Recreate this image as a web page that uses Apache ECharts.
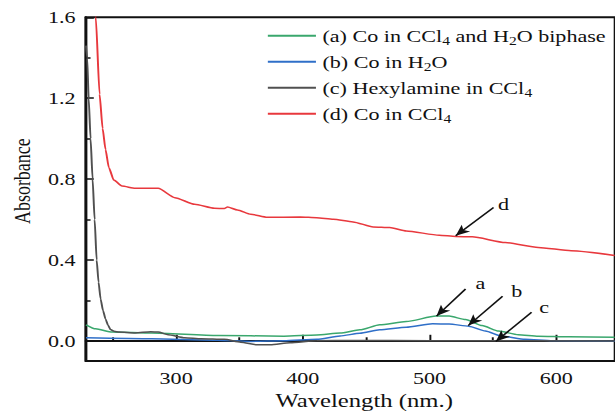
<!DOCTYPE html>
<html>
<head>
<meta charset="utf-8">
<script src="https://cdn.jsdelivr.net/npm/echarts@6/dist/echarts.min.js"></script>
<style>
  html, body { margin: 0; padding: 0; background: #fff; overflow: hidden; }
  /* the source figure is stretched horizontally, so the chart is drawn narrow and scaled */
  #chart { width: 473px; height: 415px; transform: scaleX(1.3002); transform-origin: 0 0; }
</style>
</head>
<body>
<div id="chart"></div>
<script>
// (a) Co in CCl4 and H2O biphase
const wlA = [228.9, 236.5, 249.5, 280.8, 332.8, 385, 411, 429.4, 445, 460.7, 481.6, 505, 515.4, 528.4, 541.4, 554.4, 570, 585.7, 610, 646];
const absA = [0.079, 0.059, 0.043, 0.038, 0.026, 0.023, 0.029, 0.038, 0.054, 0.079, 0.095, 0.122, 0.122, 0.105, 0.075, 0.048, 0.030, 0.023, 0.020, 0.018];

// (b) Co in H2O
const wlB = [228.9, 280.8, 332.8, 359, 385, 411, 429.4, 445, 460.7, 481.6, 502.3, 515.4, 531, 544, 557, 575.3, 597, 646];
const absB = [0.015, 0.010, 0.003, -0.003, 0.0, 0.007, 0.024, 0.037, 0.054, 0.067, 0.084, 0.083, 0.072, 0.048, 0.023, 0.007, 0.0, -0.002];

// (c) Hexylamine in CCl4
const wlC = [228.9, 229.8, 231, 232.5, 234.1, 235.7, 237.3, 238.8, 240.4, 242.3, 244.3, 246.2, 248.2, 251, 255, 267.7, 280, 285.9, 293.7, 306.8, 319.8, 338, 351, 364, 374.4, 390, 411, 440, 500, 646];
const absC = [1.46, 1.40, 1.2, 1.0, 0.8, 0.6, 0.4, 0.29, 0.207, 0.15, 0.108, 0.078, 0.056, 0.047, 0.043, 0.039, 0.045, 0.043, 0.030, 0.015, 0.010, 0.007, -0.007, -0.020, -0.020, -0.010, 0.0, 0.002, 0.0, -0.001];

// (d) Co in CCl4
const wlD = [230, 233, 236.6, 239.6, 242, 244.3, 246.9, 250.8, 257.3, 267.7, 285.9, 299, 314.6, 330.2, 338, 340.6, 348.4, 358.9, 371.9, 398, 410.9, 424, 439.6, 455.5, 468.5, 481.6, 507.6, 520.6, 533.6, 559.7, 585.7, 611.7, 646];
const absD = [2.3, 1.95, 1.6, 1.22, 1.05, 0.946, 0.857, 0.795, 0.765, 0.754, 0.754, 0.708, 0.675, 0.655, 0.654, 0.662, 0.647, 0.626, 0.611, 0.612, 0.609, 0.601, 0.588, 0.563, 0.560, 0.543, 0.522, 0.516, 0.514, 0.486, 0.462, 0.445, 0.422];

const seriesNames = ['(a) Co in CCl4 and H2O biphase', '(b) Co in H2O', '(c) Hexylamine in CCl4', '(d) Co in CCl4'];
const seriesColors = ['#3aa76d', '#2f6fc8', '#505050', '#e8383d'];

const xTicks = [300, 400, 500, 600];
const xMinorTicks = [250, 350, 450, 550];
const yTicks = [0, 0.4, 0.8, 1.2, 1.6];
const yMinorTicks = [0.2, 0.6, 1.0, 1.4];

// arrow annotations: [label, startX, startY, tipX, tipY, labelX, labelY]
const arrows = [
  ['a', 528.4, 0.256, 505.5, 0.122, 540.1, 0.286],
  ['b', 557.6, 0.220, 530.5, 0.075, 568.7, 0.248],
  ['c', 580.5, 0.141, 552.3, -0.003, 590.4, 0.169],
  ['d', 550.5, 0.659, 520.6, 0.519, 558.4, 0.679]
];

const font = 'Liberation Serif';
const ink = '#111';
const xs = [wlA, wlB, wlC, wlD];
const ys = [absA, absB, absC, absD];

const chart = echarts.init(document.getElementById('chart'), null, { renderer: 'svg' });

const series = seriesNames.map((name, i) => ({
  name: name,
  type: 'line',
  data: xs[i].map((x, j) => [x, ys[i][j]]),
  symbol: 'none',
  smooth: 0.2,
  smoothMonotone: 'x',
  lineStyle: { color: seriesColors[i], width: 1.5 },
  itemStyle: { color: seriesColors[i] },
  z: i === 3 ? 4 : 3,
  markLine: {
    silent: true,
    animation: false,
    symbol: ['none', 'arrow'],
    symbolSize: [7, 11],
    label: { show: false },
    lineStyle: { color: ink, width: 1.4, type: 'solid' },
    data: [[{ coord: [arrows[i][1], arrows[i][2]] }, { coord: [arrows[i][3], arrows[i][4]] }]]
  },
  markPoint: {
    silent: true,
    animation: false,
    symbol: 'circle',
    symbolSize: 1,
    itemStyle: { color: 'transparent' },
    label: { show: true, position: 'inside', formatter: '{b}', color: ink, fontSize: 17, fontFamily: font },
    data: [{ name: arrows[i][0], coord: [arrows[i][5], arrows[i][6]] }]
  }
}));

const option = {
  backgroundColor: '#fff',
  animation: false,
  grid: {
    left: 64, right: -2, top: 17.3, bottom: 52.7,
    show: true, borderColor: ink, borderWidth: 2, backgroundColor: 'transparent'
  },
  legend: {
    orient: 'vertical',
    left: 206,
    top: 24.7,
    padding: 0,
    itemGap: 4,
    itemWidth: 37,
    itemHeight: 2,
    icon: 'rect',
    data: seriesNames,
    formatter: name => name.replace(/CCl4/g, 'CCl{s|4}').replace(/H2O/g, 'H{s|2}O'),
    textStyle: {
      color: ink, fontSize: 17, fontFamily: font, lineHeight: 22,
      rich: { s: { fontSize: 12, lineHeight: 12, verticalAlign: 'bottom', fontFamily: font, color: ink } }
    }
  },
  xAxis: [
    {
      type: 'value', min: 228.9, max: 646.3,
      name: 'Wavelength (nm.)', nameLocation: 'middle', nameGap: 30,
      nameTextStyle: { color: ink, fontSize: 19, fontFamily: font, padding: [0, 0, 0, 21] },
      axisLine: { show: true, lineStyle: { color: ink, width: 2 } },
      axisTick: { show: true, inside: true, length: 6, customValues: xTicks, lineStyle: { color: ink, width: 1.5 } },
      axisLabel: { customValues: xTicks, color: ink, fontSize: 17, fontFamily: font, margin: 8 },
      splitLine: { show: false }
    },
    {
      type: 'value', min: 228.9, max: 646.3, position: 'bottom',
      axisLine: { show: false },
      axisTick: { show: true, inside: true, length: 3.5, customValues: xMinorTicks, lineStyle: { color: ink, width: 1.5 } },
      axisLabel: { show: false },
      splitLine: { show: false }
    }
  ],
  yAxis: [
    {
      type: 'value', min: -0.1, max: 1.6,
      name: 'Absorbance', nameLocation: 'middle', nameGap: 38, nameRotate: 90,
      nameTextStyle: { color: ink, fontSize: 18, fontFamily: font, padding: [0, 0, 0, 16] },
      axisLine: { show: true, lineStyle: { color: ink, width: 2 } },
      axisTick: { show: true, inside: true, length: 6, customValues: yTicks, lineStyle: { color: ink, width: 1.5 } },
      axisLabel: { customValues: yTicks, formatter: v => v.toFixed(1), color: ink, fontSize: 17, fontFamily: font, margin: 8 },
      splitLine: { show: false }
    },
    {
      type: 'value', min: -0.1, max: 1.6, position: 'left',
      axisLine: { show: false },
      axisTick: { show: true, inside: true, length: 3.5, customValues: yMinorTicks, lineStyle: { color: ink, width: 1.5 } },
      axisLabel: { show: false },
      splitLine: { show: false }
    }
  ],
  series: series
};

chart.setOption(option);
</script>
</body>
</html>
